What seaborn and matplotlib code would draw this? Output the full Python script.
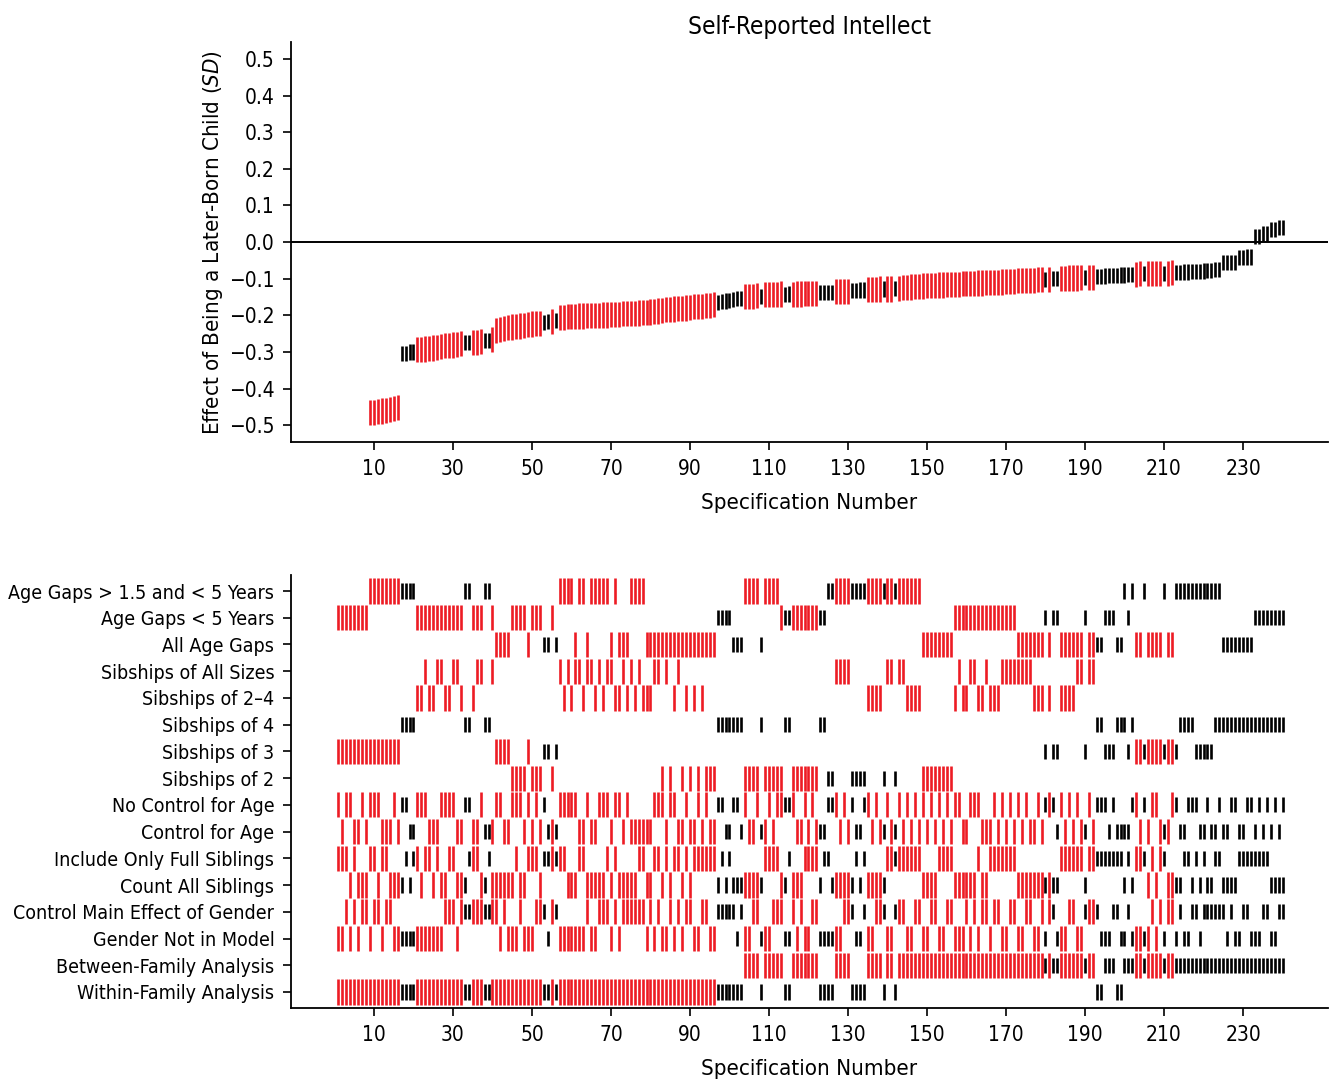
import pandas as pd
import matplotlib.pyplot as plt
import seaborn as sns

# ----------- DATA ------------

specs = list(range(1, 241))

# effect estimate per specification (sorted); specs 1-8 fall below the plotted range
estimate = [
    -0.62, -0.61, -0.61, -0.60, -0.60, -0.59, -0.59, -0.58,
    -0.466, -0.465, -0.463, -0.461, -0.460, -0.458, -0.455, -0.451,
    -0.304, -0.304, -0.300, -0.300,
    -0.294, -0.293, -0.292, -0.290, -0.289, -0.287, -0.285, -0.283, -0.282, -0.281, -0.279, -0.278,
    -0.274, -0.274, -0.274, -0.274, -0.272, -0.269, -0.269, -0.266,
    -0.241, -0.238, -0.236, -0.234, -0.232, -0.230, -0.229, -0.227, -0.226, -0.224, -0.223, -0.222,
    -0.219, -0.218, -0.218, -0.214,
    -0.206, -0.205, -0.204, -0.203, -0.203, -0.202, -0.202, -0.201, -0.201, -0.200,
    -0.200, -0.199, -0.199, -0.198, -0.197, -0.197, -0.196, -0.196, -0.195, -0.195,
    -0.194, -0.193, -0.192, -0.191, -0.189, -0.188, -0.187, -0.185, -0.184, -0.183,
    -0.182, -0.181, -0.180, -0.179, -0.177, -0.176, -0.175, -0.174, -0.173, -0.171,
    -0.165, -0.163, -0.161, -0.160, -0.157, -0.155, -0.154,
    -0.149, -0.148, -0.148, -0.147, -0.148,
    -0.144, -0.143, -0.143, -0.143, -0.142, -0.143, -0.142,
    -0.143, -0.142, -0.142, -0.141, -0.141, -0.140, -0.140,
    -0.138, -0.138, -0.137, -0.137, -0.135, -0.135, -0.134, -0.134,
    -0.132, -0.132, -0.131, -0.131, -0.129, -0.129, -0.129, -0.128,
    -0.128, -0.128, -0.128, -0.127,
    -0.126, -0.125, -0.124, -0.123, -0.122, -0.121, -0.120, -0.119, -0.118, -0.118,
    -0.117, -0.117, -0.116, -0.116, -0.115, -0.115, -0.114, -0.114, -0.113, -0.113,
    -0.112, -0.112, -0.111, -0.111, -0.110, -0.110, -0.109, -0.108, -0.108, -0.107,
    -0.106, -0.106, -0.105, -0.104, -0.104, -0.103, -0.102,
    -0.102, -0.102, -0.099, -0.099,
    -0.099, -0.099, -0.098, -0.098, -0.098, -0.097, -0.097, -0.097, -0.096,
    -0.094, -0.094, -0.093, -0.092, -0.092, -0.091, -0.090, -0.090, -0.089, -0.088,
    -0.088, -0.086, -0.086, -0.086, -0.086, -0.085, -0.085, -0.085, -0.085, -0.084,
    -0.083, -0.083, -0.082, -0.082, -0.081, -0.080, -0.080, -0.079, -0.078, -0.077, -0.076, -0.075,
    -0.056, -0.056, -0.055, -0.055,
    -0.042, -0.042, -0.041, -0.041,
    0.015, 0.015, 0.024, 0.024, 0.035, 0.035, 0.040, 0.040,
]

# specifications with a significant effect (runs written as (first, last))
significant = [(1, 16), (21, 32), (35, 37), (40, 52), 55, (57, 96), (104, 107), (109, 113),
               (116, 122), (127, 130), (135, 138), (140, 141), (143, 179), 181, (184, 189),
               (191, 192), (203, 204), (206, 209), (211, 212)]

row_labels = [
    'Age Gaps > 1.5 and < 5 Years', 'Age Gaps < 5 Years', 'All Age Gaps',
    'Sibships of All Sizes', 'Sibships of 2\u20134', 'Sibships of 4', 'Sibships of 3', 'Sibships of 2',
    'No Control for Age', 'Control for Age', 'Include Only Full Siblings', 'Count All Siblings',
    'Control Main Effect of Gender', 'Gender Not in Model',
    'Between-Family Analysis', 'Within-Family Analysis',
]

# which specifications use each analytic choice
row_specs = [
    [(9, 20), 33, 34, 38, 39, (57, 60), 62, 63, (65, 69), 71, (75, 78), (104, 107), (109, 112),
     (125, 148), 200, 202, 205, 210, (213, 224)],
    [(1, 8), (21, 32), (35, 37), 40, (45, 48), (50, 52), 55, (97, 100), (113, 124), (157, 172),
     180, 182, 183, 190, (195, 197), 201, (233, 240)],
    [(41, 44), 49, 53, 54, 56, 61, 64, 70, (72, 74), (79, 96), (101, 103), 108, (149, 156),
     (173, 179), 181, (184, 189), (191, 194), 198, 199, 203, 204, (206, 209), 211, 212, (225, 232)],
    [23, 26, 27, 30, 31, 36, 37, 40, 57, 59, 61, 62, 64, 65, 67, 69, 70, 73, 75, 77, 81, 82, 84, 87,
     (127, 130), 140, 141, 143, 144, 158, 161, 162, 165, (169, 176), 188, 189, 191, 192],
    [21, 22, 24, 25, 28, 29, 32, 35, 58, 60, 63, 66, 68, 71, 72, 74, 76, 78, 79, 80, 86, 89, 91, 93,
     (135, 138), (145, 148), 157, 159, 160, 163, 164, (166, 168), (177, 179), 181, (184, 187)],
    [(17, 20), 33, 34, 38, 39, (97, 103), 108, 114, 115, 123, 124, 193, 194, (198, 200), 202,
     (214, 217), (223, 240)],
    [(1, 16), (41, 44), 49, 53, 54, 56, 180, 182, 183, 190, (195, 197), 201, (203, 213), (218, 222)],
    [(45, 48), (50, 52), 55, 83, 85, 88, 90, 92, (94, 96), (104, 107), (109, 113), (116, 122),
     125, 126, (131, 134), 139, 142, (149, 156)],
    [1, 3, 4, 7, 9, 10, 11, 15, 17, 18, 21, 22, 23, 27, 28, 29, 30, 33, 34, 37, 41, 42, 45, 46, 47,
     49, 51, 53, (57, 61), 64, 67, 68, 69, 71, 72, 74, 81, 82, 83, 85, 86, 89, 92, 94, 97, 98, 101,
     102, 104, 107, 110, 112, 113, 114, 115, 116, 119, 121, 125, 126, 127, 129, 131, 134, 135, 137,
     140, 143, 145, 147, 149, 151, 153, 155, 157, 158, 161, 162, 163, 167, 169, 171, 173, 175, 178,
     180, 181, 182, 184, 186, 188, 191, 193, 194, 195, 197, 202, 203, 205, 207, 208, 212, 213,
     216, 217, 218, 221, 224, 227, 228, 231, 232, 234, 236, 238, 240],
    [2, 5, 6, 8, 12, 13, 14, 16, 19, 20, 24, 25, 26, 31, 32, 35, 36, 38, 39, 40, 43, 44, 48, 50,
     52, 54, 55, 56, 62, 63, 65, 66, 70, 73, (75, 80), 84, 87, 88, 90, 91, 93, 95, 96, 99, 100,
     103, 105, 106, 108, 109, 111, 117, 118, 120, 122, 123, 124, 128, 130, 132, 133, 136, 138,
     139, 141, 142, 144, 146, 148, 150, 152, 154, 156, 159, 160, 164, 165, 166, 168, 170, 172,
     174, 176, 177, 179, 183, 185, 187, 189, 190, 192, 196, (198, 201), 204, 206, 209, 210, 211,
     214, 215, 219, 220, 222, 223, 225, 226, 229, 230, 233, 235, 237, 239],
    [1, 2, 3, 5, 9, 10, 12, 13, 18, 20, 21, 23, 24, 26, 29, 30, 34, 35, 36, 39, 46, 49, 50, 51,
     (53, 58), 62, 63, 69, 71, 77, 78, 81, 82, 84, 86, 87, 89, (91, 96), 98, 100, (109, 112), 115,
     (119, 122), 124, 125, 132, 134, (140, 148), (153, 156), 163, (166, 172), (184, 189),
     (191, 199), 201, (203, 205), 207, 209, 210, 215, 216, 218, 220, 223, 224, (229, 236)],
    [4, 6, 7, 8, 11, 14, 15, 16, 17, 19, 22, 25, 27, 28, 31, 32, 33, 37, 38, (40, 45), 47, 48, 52,
     (59, 61), (64, 68), 70, (72, 76), 79, 80, 83, 85, 88, 90, 97, 99, (101, 108), 113, 114,
     (116, 118), 123, (126, 131), 133, (135, 139), (149, 152), (157, 162), 164, 165, (173, 183),
     190, 200, 202, 206, 208, (211, 214), 217, 219, 221, 222, (225, 228), (237, 240)],
    [3, 5, 7, 8, 10, 11, 13, 14, 28, 29, 30, (32, 41), 43, 47, 51, 52, 53, 55, 56, 64, 67, 68, 69,
     71, (73, 78), 80, 82, 85, 87, 89, 90, 93, 94, (97, 101), 103, 106, 107, (111, 113), 116, 118,
     121, 122, (129, 131), 134, (137, 139), (142, 144), 147, 148, 151, 152, 155, 156, 160, 162,
     164, 165, 167, 168, 171, 172, 175, 176, 179, 181, 182, 186, 187, (190, 193), 197, 198, 201,
     207, 209, 211, 212, 214, 217, 218, (220, 225), 227, 230, 231, 235, 236, 239, 240],
    [1, 2, 4, 6, 9, 12, 15, (16, 27), 31, 42, (44, 46), (48, 50), 54, (57, 63), 65, 66, 70, 72, 79,
     81, 83, 84, 86, 88, 91, 92, 95, 96, 102, 104, 105, (108, 110), 114, 115, 117, 119, 120,
     (123, 128), 132, 133, 135, 136, 140, 141, 145, 146, 149, 150, 153, 154, (157, 159), 161, 163,
     166, 169, 170, 173, 174, 177, 178, 180, (183, 185), 188, 189, (194, 196), 199, 200,
     (202, 206), 208, 210, 213, 215, 216, 219, 226, 228, 229, (232, 234), 237, 238],
    [(104, 107), (109, 113), (116, 122), (127, 130), (135, 138), 140, 141, (143, 192), (195, 197),
     (200, 240)],
    [(1, 103), 108, 114, 115, (123, 126), (131, 134), 139, 142, 193, 194, 198, 199],
]

x_ticks = [10, 30, 50, 70, 90, 110, 130, 150, 170, 190, 210, 230]
y_ticks = [0.5, 0.4, 0.3, 0.2, 0.1, 0.0, -0.1, -0.2, -0.3, -0.4, -0.5]


def expand(runs):
    out = []
    for r in runs:
        if isinstance(r, tuple):
            out.extend(range(r[0], r[1] + 1))
        else:
            out.append(r)
    return out


sig_set = set(expand(significant))
status = ['sig' if s in sig_set else 'ns' for s in specs]

df_top = pd.DataFrame({'spec': specs, 'estimate': estimate, 'status': status})

rows = []
for i, runs in enumerate(row_specs):
    for s in expand(runs):
        rows.append({'spec': s, 'row': i, 'status': 'sig' if s in sig_set else 'ns'})
df_bot = pd.DataFrame(rows)

# ----------- STYLE ------------

sns.set_style('ticks')
plt.rcParams['font.family'] = ['DejaVu Sans']
plt.rcParams['font.stretch'] = 'condensed'
plt.rcParams['mathtext.fontset'] = 'custom'
plt.rcParams['mathtext.it'] = 'DejaVu Sans:italic'
plt.rcParams['mathtext.rm'] = 'DejaVu Sans'
for key in ('text.color', 'axes.labelcolor', 'xtick.color', 'ytick.color', 'axes.edgecolor'):
    plt.rcParams[key] = 'black'

palette = {'sig': '#ED1C24', 'ns': 'black'}
sizes = {'sig': 330, 'ns': 120}
fs = 15

fig = plt.figure(figsize=(13.33, 10.81), dpi=100)
ax1 = fig.add_axes([0.2183, 0.5911, 0.7779, 0.37])
ax2 = fig.add_axes([0.2183, 0.0675, 0.7779, 0.4006])

# ----------- TOP: SPECIFICATION CURVE ------------

ax1.axhline(0, color='black', lw=1.4, zorder=1)
sns.scatterplot(data=df_top, x='spec', y='estimate', hue='status', size='status',
                palette=palette, sizes=sizes, marker='|', linewidth=1.9,
                legend=False, ax=ax1, zorder=2)
ax1.set_xlim(-11, 251.5)
ax1.set_ylim(-0.546, 0.546)
ax1.set_xticks(x_ticks)
ax1.set_yticks(y_ticks)
ax1.set_yticklabels([f'{v:.1f}'.replace('-', '\u2212') for v in y_ticks])
ax1.set_xlabel('Specification Number', fontsize=fs + 1, labelpad=10)
ax1.set_ylabel('Effect of Being a Later-Born Child ($\\mathit{SD}$)', fontsize=fs + 1, labelpad=3)
ax1.set_title('Self-Reported Intellect', fontsize=fs + 2.5, pad=6)

# ----------- BOTTOM: ANALYTIC CHOICES ------------

sns.scatterplot(data=df_bot, x='spec', y='row', hue='status', size='status',
                palette=palette, sizes=sizes, marker='|', linewidth=1.9,
                legend=False, ax=ax2)
ax2.set_xlim(-11, 251.5)
ax2.set_ylim(15.6, -0.6)
ax2.set_xticks(x_ticks)
ax2.set_yticks(range(len(row_labels)))
ax2.set_yticklabels(row_labels)
ax2.set_xlabel('Specification Number', fontsize=fs + 1, labelpad=10)
ax2.set_ylabel('')

for ax in (ax1, ax2):
    sns.despine(ax=ax)
    ax.spines['left'].set_linewidth(1.3)
    ax.spines['bottom'].set_linewidth(1.3)
    ax.tick_params(direction='out', length=6, width=1.2, labelsize=fs, pad=6)
ax2.tick_params(axis='y', labelsize=fs - 1)

fig.savefig('out.png', dpi=100)
